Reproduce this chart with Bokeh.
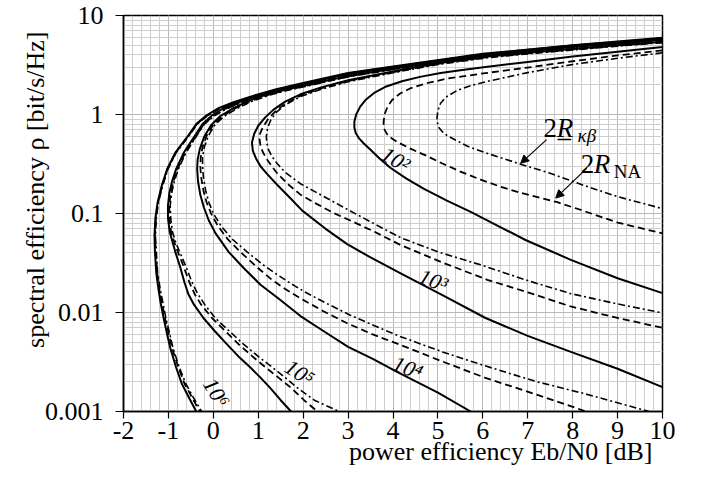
import math
from bokeh.plotting import figure
from bokeh.models import FixedTicker, CustomJSTickFormatter, Label, Arrow, NormalHead, Title
from bokeh.embed import file_html
from bokeh.resources import INLINE

FONT = "Liberation Serif"

# ---- data: power efficiency Eb/N0 [dB] (eb_*) and spectral efficiency rho (rho_*) ----
# s = solid, d = dashed (2R_NA), k = dash-dot (2R_kappa-beta)
# blocklength n = 10^6
eb_s6 = [10, 8, 6, 4, 3, 2, 1.4, 0.9, 0.45, 0.1, -0.15, -0.38, -0.55, -0.85, -1.03, -1.15, -1.24, -1.29, -1.31, -1.3, -1.27, -1.22, -1.18, -1.1, -1.02, -0.96, -0.83, -0.7, -0.55, -0.38]
rho_s6 = [5.95, 5.0, 4.1, 3.05, 2.62, 2.08, 1.8, 1.55, 1.33, 1.15, 0.98, 0.8, 0.62, 0.41, 0.28, 0.19, 0.13, 0.09, 0.06, 0.041, 0.025, 0.017, 0.013, 0.0085, 0.0058, 0.0044, 0.0028, 0.0019, 0.0014, 0.001]
eb_d6 = [10, 8, 6, 4, 3, 2, 1.41, 0.91, 0.46, 0.11, -0.14, -0.37, -0.54, -0.84, -1.02, -1.14, -1.23, -1.28, -1.3, -1.28, -1.25, -1.2, -1.15, -1.07, -0.98, -0.92, -0.78, -0.64, -0.48, -0.3]
rho_d6 = [5.92, 4.98, 4.08, 3.03, 2.6, 2.06, 1.78, 1.54, 1.32, 1.14, 0.97, 0.8, 0.62, 0.41, 0.28, 0.19, 0.13, 0.09, 0.06, 0.041, 0.025, 0.017, 0.013, 0.0085, 0.0058, 0.0044, 0.0028, 0.0019, 0.0014, 0.001]
eb_k6 = [10, 8, 6, 4, 3, 2, 1.42, 0.92, 0.47, 0.12, -0.13, -0.36, -0.53, -0.83, -1.01, -1.13, -1.22, -1.27, -1.29, -1.27, -1.24, -1.18, -1.13, -1.05, -0.96, -0.9, -0.76, -0.61, -0.45, -0.26]
rho_k6 = [5.9, 4.96, 4.06, 3.02, 2.59, 2.05, 1.77, 1.53, 1.31, 1.13, 0.97, 0.8, 0.62, 0.41, 0.28, 0.19, 0.13, 0.09, 0.06, 0.041, 0.025, 0.017, 0.013, 0.0085, 0.0058, 0.0044, 0.0028, 0.0019, 0.0014, 0.001]

# blocklength n = 10^5
eb_s5 = [10, 8, 6, 4, 3, 2, 1.45, 1.0, 0.55, 0.22, -0.03, -0.24, -0.4, -0.66, -0.83, -0.92, -0.98, -1.01, -1.01, -0.97, -0.9, -0.84, -0.74, -0.64, -0.56, -0.43, -0.22, 0.03, 0.3, 0.56, 0.82, 1.05, 1.27, 1.5, 1.73]
rho_s5 = [5.85, 4.93, 4.03, 3.0, 2.57, 2.03, 1.77, 1.55, 1.33, 1.15, 0.98, 0.8, 0.62, 0.41, 0.28, 0.21, 0.16, 0.12, 0.09, 0.065, 0.05, 0.04, 0.029, 0.02, 0.0155, 0.012, 0.0088, 0.0065, 0.0048, 0.0036, 0.0028, 0.0022, 0.00172, 0.0013, 0.001]
eb_d5 = [10, 8, 6, 4, 3, 2, 1.47, 1.02, 0.58, 0.25, 0.0, -0.21, -0.37, -0.63, -0.8, -0.89, -0.95, -0.98, -0.98, -0.94, -0.86, -0.79, -0.66, -0.53, -0.42, -0.27, -0.03, 0.28, 0.56, 0.87, 1.16, 1.45, 1.72, 2.02, 2.32]
rho_d5 = [5.82, 4.9, 4.0, 2.97, 2.54, 2.0, 1.75, 1.53, 1.31, 1.13, 0.97, 0.8, 0.62, 0.41, 0.28, 0.21, 0.16, 0.12, 0.09, 0.065, 0.05, 0.041, 0.029, 0.02, 0.0155, 0.012, 0.0088, 0.0064, 0.0048, 0.0036, 0.0028, 0.0022, 0.00175, 0.0013, 0.001]
eb_k5 = [10, 8, 6, 4, 3, 2, 1.48, 1.03, 0.59, 0.26, 0.01, -0.2, -0.36, -0.61, -0.78, -0.87, -0.93, -0.96, -0.95, -0.91, -0.83, -0.75, -0.61, -0.47, -0.35, -0.19, 0.04, 0.37, 0.67, 1.0, 1.31, 1.6, 1.86, 2.25, 2.8]
rho_k5 = [5.8, 4.88, 3.98, 2.95, 2.52, 1.98, 1.74, 1.52, 1.3, 1.12, 0.96, 0.8, 0.62, 0.41, 0.28, 0.21, 0.16, 0.12, 0.09, 0.065, 0.05, 0.041, 0.029, 0.02, 0.0155, 0.012, 0.0088, 0.0064, 0.0048, 0.0036, 0.0028, 0.0022, 0.00175, 0.0013, 0.001]

# blocklength n = 10^4
eb_s4 = [10, 8, 6, 4, 3, 2.05, 1.6, 1.2, 0.8, 0.45, 0.15, -0.05, -0.2, -0.3, -0.35, -0.36, -0.34, -0.29, -0.21, -0.1, 0.05, 0.34, 0.68, 1.05, 1.5, 1.94, 2.45, 3.0, 3.55, 4.1, 5.0, 5.73]
rho_s4 = [5.7, 4.82, 3.92, 2.9, 2.45, 1.97, 1.78, 1.6, 1.38, 1.16, 0.96, 0.78, 0.6, 0.45, 0.35, 0.28, 0.21, 0.155, 0.115, 0.085, 0.063, 0.041, 0.028, 0.0191, 0.0133, 0.0092, 0.0065, 0.0045, 0.0034, 0.0025, 0.00155, 0.001]
eb_d4 = [10, 8, 6, 4, 3, 2.05, 1.62, 1.22, 0.83, 0.48, 0.19, -0.01, -0.15, -0.24, -0.28, -0.29, -0.27, -0.22, -0.15, -0.05, 0.1, 0.32, 0.6, 1.0, 1.3, 1.6, 1.94, 2.45, 2.98, 3.55, 4.17, 5.1, 6.04, 7.2, 8.3]
rho_d4 = [5.65, 4.78, 3.88, 2.87, 2.42, 1.94, 1.76, 1.58, 1.37, 1.15, 0.95, 0.78, 0.61, 0.47, 0.37, 0.3, 0.23, 0.17, 0.13, 0.1, 0.075, 0.055, 0.041, 0.028, 0.0215, 0.0173, 0.0139, 0.0103, 0.0078, 0.006, 0.0047, 0.0032, 0.0022, 0.00148, 0.001]
eb_k4 = [10, 8, 6, 4, 3, 2.05, 1.64, 1.25, 0.86, 0.51, 0.23, 0.03, -0.11, -0.2, -0.24, -0.24, -0.22, -0.17, -0.1, 0.0, 0.17, 0.42, 0.75, 1.1, 1.4, 1.72, 2.05, 2.5, 3.05, 3.6, 4.17, 5.1, 6.04, 7.2, 8.25, 9.7]
rho_k4 = [5.62, 4.75, 3.86, 2.85, 2.4, 1.92, 1.75, 1.57, 1.36, 1.14, 0.95, 0.78, 0.61, 0.47, 0.37, 0.3, 0.23, 0.17, 0.13, 0.1, 0.075, 0.055, 0.041, 0.0305, 0.0245, 0.0197, 0.016, 0.0125, 0.0094, 0.0073, 0.0057, 0.004, 0.0029, 0.002, 0.00152, 0.001]

# blocklength n = 10^3
eb_s3 = [10, 9, 8, 7, 6.06, 5, 4, 3, 2.4, 1.94, 1.6, 1.34, 1.15, 1.0, 0.91, 0.86, 0.88, 0.95, 1.05, 1.2, 1.42, 1.7, 1.98, 2.5, 2.98, 3.5, 4.17, 5.1, 6.06, 7.0, 7.96, 9.0, 10]
rho_s3 = [5.42, 5.0, 4.58, 4.2, 3.82, 3.3, 2.72, 2.22, 1.88, 1.6, 1.35, 1.12, 0.93, 0.77, 0.64, 0.52, 0.43, 0.36, 0.3, 0.25, 0.195, 0.145, 0.107, 0.07, 0.049, 0.036, 0.0249, 0.015, 0.0088, 0.0058, 0.004, 0.0027, 0.00176]
eb_d3 = [10, 9, 8, 7, 6.06, 5, 4, 3, 2.4, 1.94, 1.62, 1.4, 1.22, 1.1, 1.04, 1.03, 1.05, 1.11, 1.2, 1.3, 1.42, 1.65, 1.94, 2.3, 2.68, 3.05, 3.6, 4.17, 5.1, 6.1, 7.0, 7.96, 9.0, 10]
rho_d3 = [5.37, 4.95, 4.53, 4.15, 3.77, 3.25, 2.68, 2.18, 1.84, 1.55, 1.3, 1.1, 0.9, 0.74, 0.64, 0.56, 0.48, 0.41, 0.35, 0.3, 0.255, 0.2, 0.155, 0.125, 0.101, 0.085, 0.065, 0.048, 0.032, 0.0214, 0.016, 0.0115, 0.0088, 0.007]
eb_k3 = [10, 9, 8, 7, 6.06, 5, 4, 3, 2.4, 1.94, 1.6, 1.4, 1.28, 1.21, 1.18, 1.19, 1.22, 1.3, 1.42, 1.6, 1.94, 2.5, 3.05, 3.6, 4.17, 5.0, 5.95, 7.0, 7.96, 9.0, 10]
rho_k3 = [5.32, 4.9, 4.48, 4.1, 3.72, 3.2, 2.64, 2.14, 1.8, 1.52, 1.25, 1.05, 0.88, 0.74, 0.6, 0.52, 0.45, 0.38, 0.32, 0.26, 0.2, 0.145, 0.106, 0.078, 0.057, 0.041, 0.0303, 0.021, 0.0155, 0.0122, 0.0099]

# blocklength n = 10^2
eb_s2 = [10, 9, 8, 7, 6.06, 5.5, 5.06, 4.6, 4.2, 3.85, 3.58, 3.4, 3.27, 3.18, 3.14, 3.14, 3.17, 3.25, 3.35, 3.5, 3.7, 3.94, 4.3, 4.69, 5.2, 5.73, 6.0, 6.95, 7.96, 9.0, 10]
rho_s2 = [4.8, 4.3, 3.85, 3.4, 3.02, 2.8, 2.62, 2.4, 2.17, 1.92, 1.65, 1.42, 1.2, 1.0, 0.85, 0.74, 0.65, 0.57, 0.51, 0.44, 0.36, 0.29, 0.225, 0.177, 0.135, 0.104, 0.09, 0.054, 0.034, 0.0222, 0.0157]
eb_d2 = [10, 9, 8, 7, 5.95, 5.2, 4.75, 4.4, 4.15, 3.98, 3.88, 3.81, 3.79, 3.8, 3.86, 3.96, 4.09, 4.35, 4.76, 5.1, 5.5, 5.95, 6.4, 6.84, 7.3, 7.66, 8.25, 9.0, 10]
rho_d2 = [4.45, 3.95, 3.45, 2.98, 2.58, 2.3, 2.07, 1.85, 1.62, 1.4, 1.2, 1.0, 0.83, 0.72, 0.64, 0.58, 0.53, 0.46, 0.38, 0.32, 0.265, 0.22, 0.186, 0.162, 0.143, 0.13, 0.106, 0.081, 0.063]
eb_k2 = [10, 9, 8, 7, 6.06, 5.75, 5.43, 5.18, 5.06, 5.0, 4.98, 4.99, 5.02, 5.1, 5.21, 5.4, 5.65, 6.06, 6.45, 6.84, 7.5, 8.18, 9.0, 10]
rho_k2 = [4.2, 3.7, 3.2, 2.65, 2.14, 1.97, 1.75, 1.5, 1.3, 1.1, 0.93, 0.82, 0.74, 0.67, 0.61, 0.55, 0.48, 0.41, 0.36, 0.315, 0.255, 0.197, 0.148, 0.112]

# ticks
x_ticks = [-2, -1, 0, 1, 2, 3, 4, 5, 6, 7, 8, 9, 10]
y_ticks = [0.001, 0.01, 0.1, 1, 10]

# blocklength labels
n_labels = ["10\u00b2", "10\u00b3", "10\u2074", "10\u2075", "10\u2076"]
n_label_x = [4.06, 4.90, 4.33, 1.92, 0.07]
n_label_rho = [0.352, 0.0211, 0.00277, 0.00247, 0.00155]
n_label_angle = [-31, -22, -22, -33, -58]

# ---- figure ----
p = figure(frame_width=539, frame_height=396, x_range=(-2, 10), y_range=(0.001, 10),
           y_axis_type="log", output_backend="svg", toolbar_location=None,
           min_border_left=123, min_border_right=30, min_border_top=15, min_border_bottom=64,
           background_fill_color="white", border_fill_color="white")
p.outline_line_color = "black"
p.outline_line_width = 1.5

x_minor = [round(-2 + 0.2 * i, 1) for i in range(61)]
y_minor = [m * 10.0 ** e for e in range(-3, 1) for m in range(2, 10)]
xt = FixedTicker(ticks=x_ticks, minor_ticks=x_minor)
yt = FixedTicker(ticks=y_ticks, minor_ticks=y_minor)
p.xaxis.ticker = xt
p.yaxis.ticker = yt
p.xgrid.ticker = xt
p.ygrid.ticker = yt
for g in (p.xgrid, p.ygrid):
    g.grid_line_color = "#b8b8b8"
    g.grid_line_width = 1
    g.minor_grid_line_color = "#cecece"
    g.minor_grid_line_width = 1

fmt = CustomJSTickFormatter(code="return String(tick);")
for ax in (p.xaxis, p.yaxis):
    ax.formatter = fmt
    ax.axis_line_color = "black"
    ax.axis_line_width = 1.5
    ax.major_tick_line_color = "black"
    ax.major_tick_line_width = 1.2
    ax.major_tick_in = 0
    ax.minor_tick_line_color = None
    ax.major_label_text_font = FONT
    ax.major_label_text_font_size = "26px"
    ax.major_label_text_color = "black"
p.xaxis.major_tick_out = 7
p.xaxis.major_label_standoff = 3
p.yaxis.major_tick_out = 8
p.yaxis.major_label_standoff = 12

curves = [
    (eb_s6, rho_s6, "s"), (eb_d6, rho_d6, "d"), (eb_k6, rho_k6, "k"),
    (eb_s5, rho_s5, "s"), (eb_d5, rho_d5, "d"), (eb_k5, rho_k5, "k"),
    (eb_s4, rho_s4, "s"), (eb_d4, rho_d4, "d"), (eb_k4, rho_k4, "k"),
    (eb_s3, rho_s3, "s"), (eb_d3, rho_d3, "d"), (eb_k3, rho_k3, "k"),
    (eb_s2, rho_s2, "s"), (eb_d2, rho_d2, "d"), (eb_k2, rho_k2, "k"),
]
for xs, ys, kind in curves:
    if kind == "s":
        p.line(xs, ys, line_color="black", line_width=2.0, line_join="round")
    elif kind == "d":
        p.line(xs, ys, line_color="black", line_width=1.8, line_dash="7 4", line_join="round")
    else:
        p.line(xs, ys, line_color="black", line_width=1.6, line_dash="7 3 2 3", line_join="round")

for t, lx, ly, ang in zip(n_labels, n_label_x, n_label_rho, n_label_angle):
    p.add_layout(Label(x=lx, y=ly, text=t, angle=math.radians(ang), text_align="center",
                       text_baseline="middle", text_font=FONT, text_font_style="italic",
                       text_font_size="22px", text_color="black"))

def lab(x, y, text, size="27px", style="normal", **kw):
    p.add_layout(Label(x=x, y=y, text=text, text_font=FONT, text_font_size=size,
                       text_font_style=style, text_color="black", text_baseline="alphabetic", **kw))

# 2R_kappa-beta (underlined R) and 2R_NA
lab(7.353, 0.736, "2")
lab(7.643, 0.736, "R\u0332", style="italic")
lab(8.11, 0.612, "\u03ba\u03b2", size="19px", style="italic")
lab(8.178, 0.313, "2")
lab(8.468, 0.313, "R", style="italic")
lab(8.913, 0.267, "NA", size="19px")

p.add_layout(Arrow(end=NormalHead(size=8, fill_color="black", line_color="black"),
                   x_start=7.42, y_start=0.558, x_end=6.842, y_end=0.321,
                   line_color="black", line_width=1.2))
p.add_layout(Arrow(end=NormalHead(size=8, fill_color="black", line_color="black"),
                   x_start=8.313, y_start=0.2856, x_end=7.622, y_end=0.143,
                   line_color="black", line_width=1.2))

# axis titles
p.add_layout(Title(text="spectral efficiency \u03c1 [bit/s/Hz]", align="right", offset=16,
                   vertical_align="bottom", standoff=-16, text_font=FONT, text_font_size="26px",
                   text_font_style="normal", text_color="black"), "left")
p.add_layout(Title(text="power efficiency Eb/N0 [dB]", align="right", offset=10,
                   vertical_align="top", standoff=-10, text_font=FONT, text_font_size="26px",
                   text_font_style="normal", text_color="black"), "below")

open("out.html", "w").write(file_html(p, INLINE))
